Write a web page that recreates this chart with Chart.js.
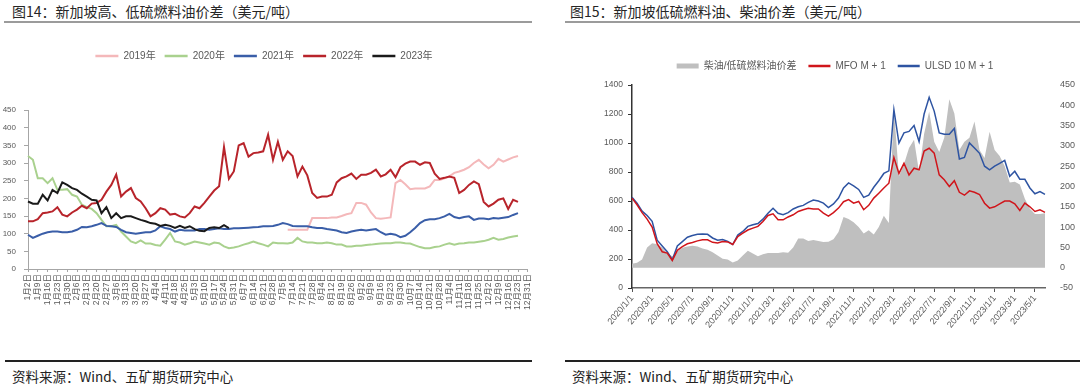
<!DOCTYPE html>
<html>
<head>
<meta charset="utf-8">
<script src="https://cdn.jsdelivr.net/npm/chart.js@4.4.1/dist/chart.umd.min.js"></script>
<style>
  html, body { margin: 0; padding: 0; background: #fff; }
  body { width: 1080px; height: 389px; position: relative; overflow: hidden;
         font-family: "Noto Sans CJK SC", "Noto Sans", sans-serif; }
  .title { position: absolute; top: 1px; font-size: 14px; line-height: 20px; color: #262626; white-space: nowrap; }
  .ruleTop { position: absolute; top: 21px; height: 2px; background: #9b9b9b; }
  .ruleBot { position: absolute; top: 360px; height: 2px; background: #222; }
  .src { position: absolute; top: 366px; font-size: 13.5px; line-height: 20px; color: #222; white-space: nowrap; }
  canvas { position: absolute; }
</style>
</head>
<body>
<div class="title" style="left:12px">图14：新加坡高、低硫燃料油价差（美元/吨）</div>
<div class="ruleTop" style="left:4px;width:528px"></div>
<div class="title" style="left:570px">图15：新加坡低硫燃料油、柴油价差（美元/吨）</div>
<div class="ruleTop" style="left:565px;width:515px"></div>

<canvas id="left" width="540" height="300" style="left:0;top:30px"></canvas>
<canvas id="right" width="520" height="320" style="left:560px;top:30px"></canvas>

<div class="ruleBot" style="left:5px;width:527px"></div>
<div class="src" style="left:12px">资料来源：Wind、五矿期货研究中心</div>
<div class="ruleBot" style="left:565px;width:515px"></div>
<div class="src" style="left:572px">资料来源：Wind、五矿期货研究中心</div>

<script>
// ---------- 图14 数据（半周一个点） ----------
const weekLabels = ['1月2日','1月9日','1月16日','1月23日','1月30日','2月6日','2月13日','2月20日','2月27日',
  '3月6日','3月13日','3月20日','3月27日','4月4日','4月11日','4月18日','4月25日','5月3日','5月10日',
  '5月17日','5月24日','5月31日','6月7日','6月14日','6月21日','6月28日','7月5日','7月14日','7月21日',
  '7月28日','8月4日','8月12日','8月19日','8月26日','9月2日','9月9日','9月16日','9月23日','9月30日',
  '10月7日','10月14日','10月21日','10月28日','11月4日','11月11日','11月18日','11月25日','12月2日',
  '12月9日','12月16日','12月23日','12月31日'];

const y2019 = [null,null,null,null,null,null,null,null,null,null,null,null,null,null,null,null,null,null,
  null,null,null,null,null,null,null,null,null,null,null,null,null,null,null,null,null,null,null,null,null,
  null,null,null,null,null,null,null,null,null,null,null,null,null,null,
  111,111,111,111,111,144,144,144,144,146,146,150,155,158,187,187,182,160,144,142,144,146,
  243,252,240,226,228,228,228,234,252,252,257,262,272,276,281,288,300,309,296,285,295,312,304,310,316,320];

const y2020 = [320,309,257,257,243,257,224,224,226,210,205,182,175,170,158,139,121,121,125,106,92,78,73,81,
  72,72,68,66,83,102,78,75,69,73,78,75,72,69,75,73,64,59,61,64,69,73,78,73,69,64,75,73,73,72,75,88,78,
  75,75,73,73,75,73,69,69,64,64,66,66,68,69,71,72,73,73,75,75,73,72,67,62,59,59,62,64,69,73,69,72,73,
  75,75,77,79,83,88,83,85,89,92,94];

const y2021 = [97,88,94,100,104,106,106,104,104,106,111,119,118,121,125,130,122,121,119,111,104,102,100,
  102,104,104,109,121,116,113,106,111,109,109,109,113,113,111,113,115,113,113,115,115,116,117,118,119,
  121,121,122,125,130,127,122,121,121,121,118,116,116,113,111,109,104,102,106,109,111,109,111,113,104,
  97,100,97,90,94,104,116,130,138,141,141,144,149,156,147,144,147,149,139,143,143,141,144,143,145,147,
  153,158];

const y2022 = [135,135,141,158,160,163,175,154,149,160,168,179,172,185,187,196,219,238,267,205,219,229,
  201,191,172,149,158,172,168,154,156,149,146,158,177,172,187,205,222,234,345,255,276,350,356,318,328,
  330,333,380,309,360,309,333,320,262,290,265,215,201,205,205,210,245,257,262,270,255,267,267,272,281,
  262,268,281,260,288,298,304,304,295,302,300,270,255,258,262,258,215,224,238,248,240,190,177,185,196,
  200,170,196,190];

const y2023 = [191,185,185,210,194,224,215,245,238,229,224,213,205,196,194,158,175,144,158,144,149,149,
  144,139,135,130,128,122,125,122,116,122,116,121,113,108,107,116,118,116,124,116];

// ---------- 图15 数据（半月一个点） ----------
const tickDates = ['2020/1/1','2020/3/1','2020/5/1','2020/7/1','2020/9/1','2020/11/1','2021/1/1','2021/3/1',
  '2021/5/1','2021/7/1','2021/9/1','2021/11/1','2022/1/1','2022/3/1','2022/5/1','2022/7/1','2022/9/1',
  '2022/11/1','2023/1/1','2023/3/1','2023/5/1'];

const spread = [10,12,20,50,60,58,50,35,28,40,49,52,54,52,47,44,38,30,22,20,13,18,30,42,35,28,33,36,36,36,
  38,37,50,72,72,66,68,66,63,64,70,88,125,120,112,100,84,92,82,100,128,110,390,225,255,295,315,235,330,
  385,310,285,320,415,380,290,310,320,360,290,270,335,290,275,250,210,212,205,170,145,132,132,134];

const mfo = [620,574,520,475,420,305,250,241,190,260,285,305,314,325,332,332,315,310,320,318,300,355,378,
  400,413,425,458,500,512,470,470,490,505,528,540,550,545,545,516,495,520,551,595,610,585,597,540,570,
  620,654,689,723,900,790,860,780,826,815,945,964,930,780,746,700,740,660,640,670,660,645,585,551,560,
  580,600,600,580,535,585,560,528,539,521];

const ulsd = [626,585,530,500,460,330,290,250,195,290,320,350,362,370,372,370,345,330,335,322,300,365,390,
  425,436,445,475,516,550,515,505,520,545,560,570,590,607,600,585,555,580,620,690,725,705,680,625,640,
  695,740,790,808,1230,1000,1070,1080,1120,1010,1200,1315,1220,1070,1060,1060,1100,890,900,1000,965,929,
  840,815,840,860,880,770,805,750,750,690,650,665,645];

// 半周类目：每周标签之间插一个空类目
const leftCats = [];
weekLabels.forEach((w, i) => { if (i > 0) leftCats.push(''); leftCats.push(w); });

// 半月类目：每月1日和16日
const rightCats = [];
for (let y = 2020; y <= 2023; y++) {
  for (let m = 1; m <= 12; m++) {
    if (y === 2023 && m > 5) break;
    rightCats.push(y + '/' + m + '/1', y + '/' + m + '/16');
  }
}
rightCats.push('2023/6/1');

const FONT = '"Liberation Sans", "Noto Sans CJK SC", sans-serif';
const GREY_TXT = '#595959';

// 图例与绘图区之间留空
const legendGap = {
  id: 'legendGap',
  beforeInit(chart, args, opts) {
    const fit = chart.legend.fit;
    chart.legend.fit = function () {
      fit.call(this);
      this.height += opts.extra || 0;
    };
  }
};

function legendItems(chart) {
  return chart.data.datasets.map((ds, i) => ({
    text: ds.label,
    datasetIndex: i,
    fillStyle: ds.fill ? ds.backgroundColor : ds.borderColor,
    strokeStyle: ds.borderColor,
    lineWidth: ds.fill ? 0 : 2.5,
    pointStyle: ds.fill ? 'rect' : 'line',
    hidden: false,
    fontColor: GREY_TXT
  }));
}

function lineSet(label, data, color, order, width) {
  return { label, data, borderColor: color, backgroundColor: color, borderWidth: width,
           fill: false, pointRadius: 0, tension: 0, order };
}

const plain = v => String(v);

// ---------- 图14 ----------
new Chart(document.getElementById('left'), {
  type: 'line',
  data: {
    labels: leftCats,
    datasets: [
      lineSet('2019年', y2019, '#F4B8BA', 4, 2),
      lineSet('2020年', y2020, '#A9D18E', 3, 2),
      lineSet('2021年', y2021, '#3A5EA8', 2, 2),
      lineSet('2022年', y2022, '#B8242B', 1, 2),
      lineSet('2023年', y2023, '#1A1A1A', 0, 2)
    ]
  },
  plugins: [legendGap],
  options: {
    responsive: false,
    animation: false,
    layout: { padding: { top: 12, right: 12, left: 0, bottom: 0 } },
    plugins: {
      legend: {
        labels: { usePointStyle: true, pointStyleWidth: 23, boxHeight: 5, padding: 9,
                  font: { size: 10, family: FONT }, color: GREY_TXT, generateLabels: legendItems }
      },
      legendGap: { extra: 39 },
      tooltip: { enabled: false }
    },
    scales: {
      x: {
        grid: { drawOnChartArea: false, tickLength: 3,
                tickColor: c => (c.index % 2 ? 'rgba(0,0,0,0)' : '#a6a6a6') },
        border: { color: '#a6a6a6' },
        ticks: {
          autoSkip: false, minRotation: 90, maxRotation: 90, padding: 2,
          font: { size: 8.5, family: FONT }, color: GREY_TXT,
          callback(v, i) { return i % 2 ? '' : this.getLabelForValue(v); }
        },
        afterFit(s) { s.height = 61; }
      },
      y: {
        min: 0, max: 450,
        grid: { drawOnChartArea: false, tickLength: 4, tickColor: '#a6a6a6' },
        border: { color: '#a6a6a6' },
        ticks: { stepSize: 50, padding: 8, font: { size: 8, family: FONT }, color: GREY_TXT, callback: plain },
        afterFit(s) { s.width = 28; }
      }
    }
  }
});

// ---------- 图15 ----------
new Chart(document.getElementById('right'), {
  type: 'line',
  data: {
    labels: rightCats,
    datasets: [
      { label: '柴油/低硫燃料油价差', data: spread, yAxisID: 'y1', backgroundColor: '#BFBFBF',
        borderColor: '#BFBFBF', borderWidth: 0, fill: 'origin', pointRadius: 0, tension: 0, order: 1 },
      Object.assign(lineSet('MFO M + 1', mfo, '#D0151B', 0, 1.5), { yAxisID: 'y' }),
      Object.assign(lineSet('ULSD 10 M + 1', ulsd, '#2E54A2', 0, 1.5), { yAxisID: 'y' })
    ]
  },
  plugins: [legendGap],
  options: {
    responsive: false,
    animation: false,
    layout: { padding: { top: 19, right: 0, left: 30, bottom: 0 } },
    plugins: {
      legend: {
        labels: { usePointStyle: true, pointStyleWidth: 22, boxHeight: 5, padding: 12,
                  font: { size: 10, family: FONT }, color: GREY_TXT, generateLabels: legendItems }
      },
      legendGap: { extra: 4 },
      tooltip: { enabled: false }
    },
    scales: {
      x: {
        grid: { drawOnChartArea: false, tickLength: 4,
                tickColor: c => (tickDates.includes(rightCats[c.index]) ? '#555' : 'rgba(0,0,0,0)') },
        border: { color: '#666', width: 1.5 },
        ticks: {
          autoSkip: false, minRotation: 50, maxRotation: 50, padding: 1,
          font: { size: 9, family: FONT }, color: GREY_TXT,
          callback(v) { const l = this.getLabelForValue(v); return tickDates.includes(l) ? l : ''; }
        },
        afterFit(s) { s.height = 62; }
      },
      y: {
        position: 'left', min: 0, max: 1400,
        grid: { drawOnChartArea: false, tickLength: 4, tickColor: '#333' },
        border: { color: '#333', width: 1.5 },
        ticks: { stepSize: 200, padding: 5, font: { size: 8.5, family: FONT }, color: GREY_TXT, callback: plain },
        afterFit(s) { s.width = 42; }
      },
      y1: {
        position: 'right', min: -50, max: 450,
        grid: { display: false },
        border: { display: false },
        ticks: { stepSize: 50, padding: 7, font: { size: 9, family: FONT }, color: GREY_TXT, callback: plain },
        afterFit(s) { s.width = 35; }
      }
    }
  }
});
</script>
</body>
</html>
